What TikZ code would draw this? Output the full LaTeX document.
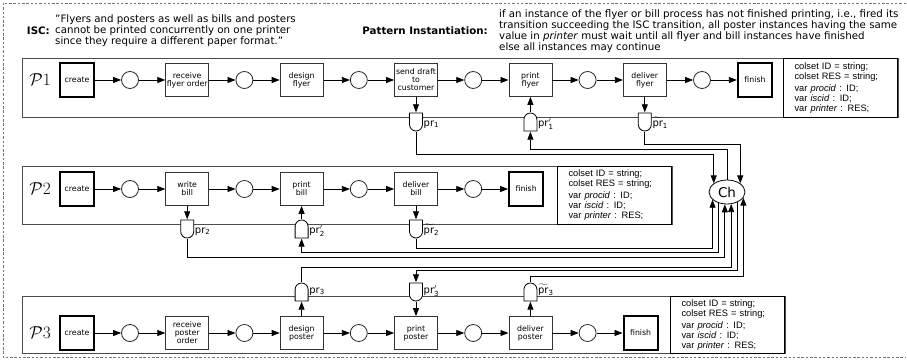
\documentclass[tikz,border=0pt]{standalone}
\usepackage{amsmath}
\usepackage{fontspec}
\setmainfont{DejaVu Sans}
\newfontfamily\declfont{Liberation Sans}
\usepackage{tikz}
\usetikzlibrary{positioning,shapes.geometric,arrows.meta}

\begin{document}
\begin{tikzpicture}[
  x=1pt,y=-1pt,
  node distance=57.2pt,
  hdtext/.style={align=left,inner sep=0pt,font=\fontsize{10.25}{11}\selectfont},
  hdlabel/.style={inner sep=0pt,font=\bfseries\fontsize{10.25}{11}\selectfont},
  procframe/.style={draw=black!70,line width=0.9pt},
  decl/.style={draw=black,line width=0.9pt,anchor=north east,align=left,text width=92pt,inner xsep=11pt,minimum height=59pt,font=\declfont\fontsize{9.3}{10}\selectfont},
  proclabel/.style={inner sep=0pt,font=\fontsize{19}{19}\selectfont},
  trans/.style={rectangle,draw=black!80,line width=0.8pt,minimum width=43pt,minimum height=33pt,inner sep=1pt,align=center,font=\fontsize{7.8}{8}\selectfont,on grid},
  endtrans/.style={trans,draw=black,line width=2.2pt,minimum width=34pt,minimum height=34pt},
  place/.style={circle,draw=black!85,line width=0.8pt,minimum size=17pt,inner sep=0pt,on grid},
  gatedown/.style={rectangle,minimum width=15pt,minimum height=19pt,inner sep=0pt,
    path picture={\draw[shift={(path picture bounding box.center)},x=1pt,y=1pt,line width=0.8pt,fill=white]
      (-6.5,9) -- (6.5,9) -- (6.5,-2.5) arc[start angle=0,end angle=-180,radius=6.5] -- cycle;}},
  gateup/.style={rectangle,minimum width=15pt,minimum height=19pt,inner sep=0pt,
    path picture={\draw[shift={(path picture bounding box.center)},x=1pt,y=1pt,line width=0.8pt,fill=white]
      (-6.5,-9) -- (6.5,-9) -- (6.5,2.5) arc[start angle=0,end angle=180,radius=6.5] -- cycle;}},
  gatelabel/.style={anchor=base west,inner sep=0pt,font=\fontsize{10}{10}\selectfont},
  chan/.style={ellipse,draw,line width=0.8pt,minimum width=36pt,minimum height=24pt,inner sep=0pt,font=\fontsize{13.5}{13.5}\selectfont},
  flow/.style={-{Triangle[length=8pt,width=6pt]},line width=0.8pt},
]
\useasboundingbox (0,0) rectangle (907,361);
\draw[black!55,line width=0.8pt,dash pattern=on 2.5pt off 1.8pt] (906,3) -- (3,3) -- (3,357) -- (906,357);

\node[hdtext,anchor=west] (iscq) at (55,31) {"Flyers and posters as well as bills and posters\\cannot be printed concurrently on one printer\\since they require a different paper format."};
\node[hdlabel,left=5pt of iscq] (isc) {ISC:};
\node[hdtext,anchor=west] (patq) at (499,31) {if an instance of the flyer or bill process has not finished printing, i.e., fired its\\transition succeeding the ISC transition, all poster instances having the same\\value in \textit{printer} must wait until all flyer and bill instances have finished\\else all instances may continue};
\node[hdlabel,left=11pt of patq] (pat) {Pattern Instantiation:};

% P1
\draw[procframe] (22,58) rectangle (898,117);
\node[decl] (d1) at (898,58) {colset ID = string;\\colset RES = string;\\[2pt]var \textit{procid} : ID;\\var \textit{iscid} : ID;\\var \textit{printer} : RES;};
\node[proclabel] (lp1) at (40,80) {$\mathcal{P}1$};
\node[endtrans] (cr1) at (77,80) {create};
\node[place,right=53pt of cr1] (p11) {};
\node[trans,right=of p11] (rfo) {receive\\flyer order};
\node[place,right=of rfo] (p12) {};
\node[trans,right=of p12] (dfl) {design\\flyer};
\node[place,right=of dfl] (p13) {};
\node[trans,right=of p13] (sdc) {send draft\\to\\customer};
\node[place,right=of sdc] (p14) {};
\node[trans,right=of p14] (pfl) {print\\flyer};
\node[place,right=of pfl] (p15) {};
\node[trans,right=of p15] (dlf) {deliver\\flyer};
\node[place,right=of dlf] (p16) {};
\node[endtrans,right=53pt of p16] (fi1) {finish};
\path[flow] (cr1) edge (p11) (p11) edge (rfo) (rfo) edge (p12) (p12) edge (dfl) (dfl) edge (p13)
  (p13) edge (sdc) (sdc) edge (p14) (p14) edge (pfl) (pfl) edge (p15) (p15) edge (dlf)
  (dlf) edge (p16) (p16) edge (fi1);

% P2
\draw[procframe] (22,166) rectangle (672,224);
\node[decl,minimum height=58pt] (d2) at (672,166) {colset ID = string;\\colset RES = string;\\[2pt]var \textit{procid} : ID;\\var \textit{iscid} : ID;\\var \textit{printer} : RES;};
\node[proclabel] (lp2) at (40,189) {$\mathcal{P}2$};
\node[endtrans] (cr2) at (77,189) {create};
\node[place,right=53pt of cr2] (p21) {};
\node[trans,right=of p21] (wb) {write\\bill};
\node[place,right=of wb] (p22) {};
\node[trans,right=of p22] (pb) {print\\bill};
\node[place,right=of pb] (p23) {};
\node[trans,right=of p23] (db) {deliver\\bill};
\node[place,right=of db] (p24) {};
\node[endtrans,right=53pt of p24] (fi2) {finish};
\path[flow] (cr2) edge (p21) (p21) edge (wb) (wb) edge (p22) (p22) edge (pb) (pb) edge (p23)
  (p23) edge (db) (db) edge (p24) (p24) edge (fi2);

% P3
\draw[procframe] (22,296) rectangle (785,353);
\node[decl,minimum height=57pt] (d3) at (785,296) {colset ID = string;\\colset RES = string;\\[2pt]var \textit{procid} : ID;\\var \textit{iscid} : ID;\\var \textit{printer} : RES;};
\node[proclabel] (lp3) at (40,333) {$\mathcal{P}3$};
\node[endtrans] (cr3) at (77,333) {create};
\node[place,right=53pt of cr3] (p31) {};
\node[trans,right=of p31] (rpo) {receive\\poster\\order};
\node[place,right=of rpo] (p32) {};
\node[trans,right=of p32] (dp) {design\\poster};
\node[place,right=of dp] (p33) {};
\node[trans,right=of p33] (pp) {print\\poster};
\node[place,right=of pp] (p34) {};
\node[trans,right=of p34] (dlp) {deliver\\poster};
\node[place,right=of dlp] (p35) {};
\node[endtrans,right=53pt of p35] (fi3) {finish};
\path[flow] (cr3) edge (p31) (p31) edge (rpo) (rpo) edge (p32) (p32) edge (dp) (dp) edge (p33)
  (p33) edge (pp) (pp) edge (p34) (p34) edge (dlp) (dlp) edge (p35) (p35) edge (fi3);

% gates
\node[gatedown] (g11) at (sdc |- 0,122) {};
\node[gateup] (g12) at (pfl |- 0,122) {};
\node[gatedown] (g13) at (dlf |- 0,122) {};
\node[gatedown] (g21) at (wb |- 0,229) {};
\node[gateup] (g22) at (pb |- 0,229) {};
\node[gatedown] (g23) at (db |- 0,229) {};
\node[gateup] (g31) at (dp |- 0,292) {};
\node[gatedown] (g32) at (pp |- 0,292) {};
\node[gateup] (g33) at (dlp |- 0,292) {};
\node[gatelabel] at ([xshift=7.5pt,yshift=-4pt]g11.center) {pr$_{\text{1}}$};
\node[gatelabel] at ([xshift=7.5pt,yshift=-4pt]g12.center) {pr$'_{\text{1}}$};
\node[gatelabel] at ([xshift=7.5pt,yshift=-4pt]g13.center) {$\widetilde{\text{pr}}_{\text{1}}$};
\node[gatelabel] at ([xshift=7.5pt,yshift=-4pt]g21.center) {pr$_{\text{2}}$};
\node[gatelabel] at ([xshift=7.5pt,yshift=-4pt]g22.center) {pr$'_{\text{2}}$};
\node[gatelabel] at ([xshift=7.5pt,yshift=-4pt]g23.center) {$\widetilde{\text{pr}}_{\text{2}}$};
\node[gatelabel] at ([xshift=7.5pt,yshift=-1pt]g31.center) {pr$_{\text{3}}$};
\node[gatelabel] at ([xshift=7.5pt,yshift=-1pt]g32.center) {pr$'_{\text{3}}$};
\node[gatelabel] at ([xshift=7.5pt,yshift=-1pt]g33.center) {$\widetilde{\text{pr}}_{\text{3}}$};

\node[chan] (ch) at (727,192) {Ch};

\draw[flow] (sdc) -- (g11.north);
\draw[flow] (g11.south) |- (ch.147 |- 0,154) -- (ch.147);
\draw[flow] (g12.north) -- (pfl);
\draw[flow] (ch.north) |- (g12.south |- 0,149) -- (g12.south);
\draw[flow] (dlf) -- (g13.north);
\draw[flow] (g13.south) |- (ch.33 |- 0,144) -- (ch.33);

\draw[flow] (wb) -- (g21.north);
\draw[flow] (g21.south) |- (ch.260 |- 0,257) -- (ch.260);
\draw[flow] (g22.north) -- (pb);
\draw[flow] (ch.233) |- (g22.south |- 0,252) -- (g22.south);
\draw[flow] (db) -- (g23.north);
\draw[flow] (g23.south) |- (ch.208 |- 0,248) -- (ch.208);

\draw[flow] (dp) -- (g31.south);
\draw[flow] (g31.north) |- (ch.289 |- 0,267) -- (ch.289);
\draw[flow] (g32.south) -- (pp);
\draw[flow] (ch.315) |- (g32.north |- 0,270) -- (g32.north);
\draw[flow] (dlp) -- (g33.south);
\draw[flow] (g33.north) |- (ch.341 |- 0,276) -- (ch.341);
\end{tikzpicture}
\end{document}
